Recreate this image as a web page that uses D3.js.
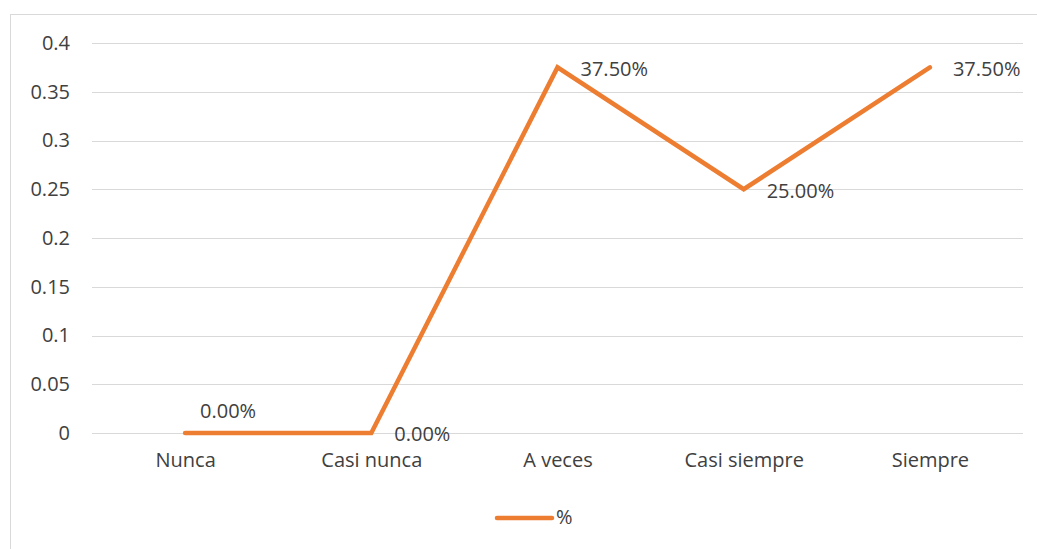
<!DOCTYPE html>
<html>
<head>
<meta charset="utf-8">
<script src="https://cdn.jsdelivr.net/npm/d3@7"></script>
<style>
  body { margin: 0; background: #fff; }
  text { font-family: "Open Sans", "Noto Sans", sans-serif; fill: #404040; }
</style>
</head>
<body>
<div id="chart"></div>
<script>
// data
var categories = ["Nunca", "Casi nunca", "A veces", "Casi siempre", "Siempre"];
var values = [0, 0, 0.375, 0.25, 0.375];
var yTicks = [0, 0.05, 0.1, 0.15, 0.2, 0.25, 0.3, 0.35, 0.4];
var seriesName = "%";

var svgWidth = 1037;
var svgHeight = 549;
var margin = { top: 43, right: 14, bottom: 116, left: 92 };
var width = svgWidth - margin.left - margin.right;
var height = svgHeight - margin.top - margin.bottom;
var fontSize = "20px";

var svg = d3.select("#chart").append("svg")
    .attr("width", svgWidth).attr("height", svgHeight);

// chart frame
svg.append("rect")
    .attr("x", 10.5).attr("y", 14.5)
    .attr("width", svgWidth).attr("height", svgHeight)
    .attr("fill", "none").attr("stroke", "#d9d9d9");

var chartGroup = svg.append("g").attr("transform", `translate(${margin.left}, ${margin.top})`);

var xScale = d3.scalePoint().domain(categories).range([0, width]).padding(0.5);
var yScale = d3.scaleLinear().domain([0, 0.4]).range([height, 0]);

// gridlines
chartGroup.selectAll(".grid").data(yTicks).enter().append("line")
    .attr("x1", 0).attr("x2", width)
    .attr("y1", d => Math.round(yScale(d)) + 0.5).attr("y2", d => Math.round(yScale(d)) + 0.5)
    .attr("stroke", "#d9d9d9").attr("stroke-width", 1);

// y axis
var leftAxis = d3.axisLeft(yScale).tickValues(yTicks).tickSize(0).tickPadding(22)
    .tickFormat(d => d3.format("")(+d.toFixed(2)));
var yAxis = chartGroup.append("g").call(leftAxis);
yAxis.select(".domain").remove();
yAxis.selectAll("text").style("font-size", fontSize).attr("fill", "#404040");

// x axis
var bottomAxis = d3.axisBottom(xScale).tickSize(0).tickPadding(20);
var xAxis = chartGroup.append("g").attr("transform", `translate(0, ${height})`).call(bottomAxis);
xAxis.select(".domain").remove();
xAxis.selectAll("text").style("font-size", fontSize).attr("fill", "#404040");

// line
var line = d3.line().x((d, i) => xScale(categories[i])).y(d => yScale(d));
chartGroup.append("path")
    .datum(values)
    .attr("d", line)
    .attr("fill", "none")
    .attr("stroke", "#ED7D31")
    .attr("stroke-width", 4.5)
    .attr("stroke-linecap", "round")
    .attr("stroke-linejoin", "miter");

// data labels
var labelSide = ["above", "right", "right", "right", "right"];
chartGroup.selectAll(".lbl").data(values).enter().append("text")
    .attr("x", (d, i) => labelSide[i] === "above" ? xScale(categories[i]) + 43 : xScale(categories[i]) + 23)
    .attr("y", (d, i) => labelSide[i] === "above" ? yScale(d) - 20 : yScale(d) + 3)
    .attr("text-anchor", (d, i) => labelSide[i] === "above" ? "middle" : "start")
    .attr("dominant-baseline", "middle")
    .style("font-size", fontSize)
    .text(d => d3.format(".2%")(d));

// legend
var legend = svg.append("g").attr("transform", "translate(497, 518)");
legend.append("line")
    .attr("x1", 0).attr("x2", 55).attr("y1", 0).attr("y2", 0)
    .attr("stroke", "#ED7D31").attr("stroke-width", 4.5).attr("stroke-linecap", "round");
legend.append("text").attr("x", 59).attr("y", 1)
    .attr("dominant-baseline", "middle")
    .style("font-size", fontSize).text(seriesName);
</script>
</body>
</html>
